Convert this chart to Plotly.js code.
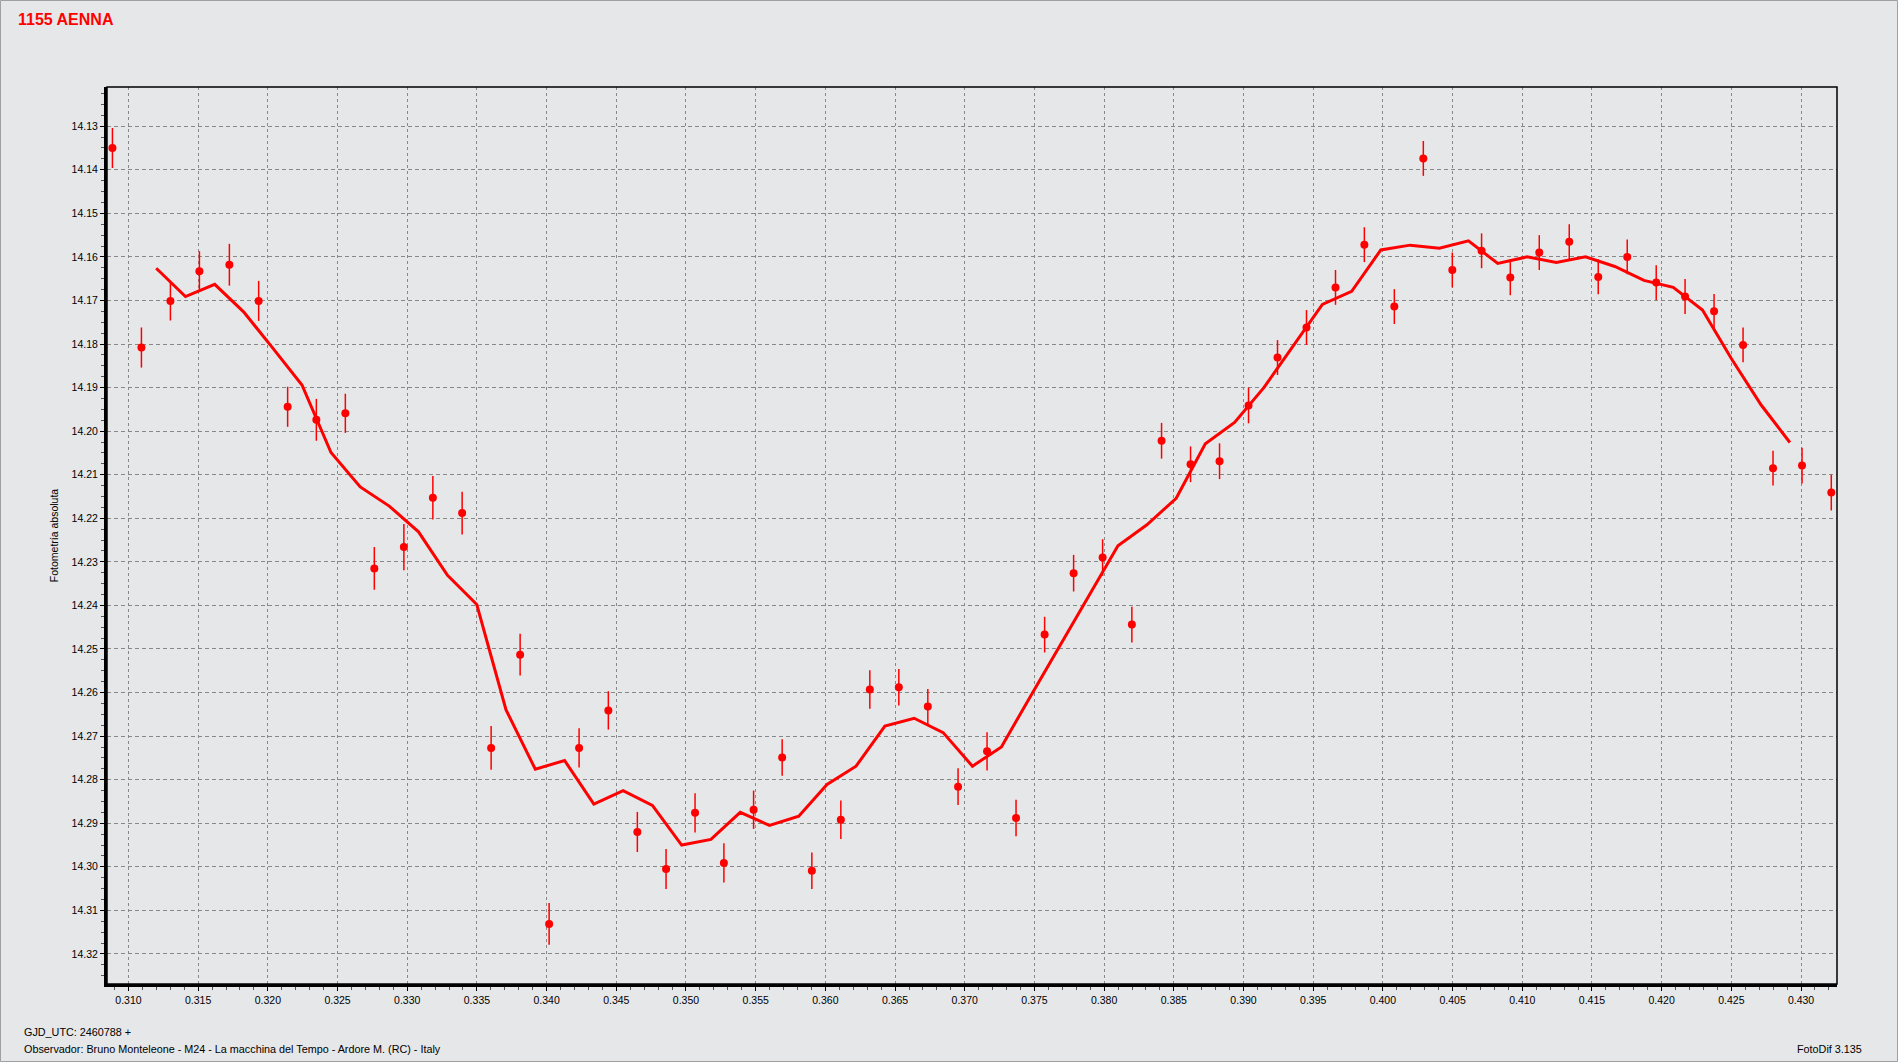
<!DOCTYPE html>
<html>
<head>
<meta charset="utf-8">
<script src="https://cdn.plot.ly/plotly-3.0.1.min.js"></script>
<style>
  html, body { margin: 0; padding: 0; background: #e6e7e9; }
  #chart { width: 1898px; height: 1062px; }
</style>
</head>
<body>
<div id="chart"></div>
<script>
// Observation times (GJD_UTC - 2460788)
const obsTime = [
  0.30885, 0.31093, 0.31301, 0.31509, 0.31724, 0.31934, 0.32142, 0.32348, 0.32556, 0.32764, 0.32976, 0.33184,
  0.33394, 0.33602, 0.33810, 0.34018, 0.34233, 0.34443, 0.34651, 0.34857, 0.35065, 0.35272, 0.35485, 0.35690,
  0.35903, 0.36111, 0.36319, 0.36527, 0.36735, 0.36952, 0.37160, 0.37368, 0.37573, 0.37781, 0.37989, 0.38199,
  0.38412, 0.38620, 0.38828, 0.39036, 0.39244, 0.39452, 0.39660, 0.39867, 0.40082, 0.40290, 0.40498, 0.40708,
  0.40914, 0.41122, 0.41337, 0.41545, 0.41753, 0.41961, 0.42168, 0.42376, 0.42584, 0.42799, 0.43007, 0.43217
];
// Absolute magnitudes
const obsMag = [
  14.1350, 14.1808, 14.1701, 14.1633, 14.1618, 14.1701, 14.1944, 14.1974, 14.1959, 14.2315, 14.2266, 14.2153,
  14.2188, 14.2727, 14.2513, 14.3131, 14.2727, 14.2641, 14.2920, 14.3005, 14.2876, 14.2991, 14.2869, 14.2749,
  14.3009, 14.2892, 14.2593, 14.2588, 14.2632, 14.2816, 14.2735, 14.2888, 14.2467, 14.2326, 14.2290, 14.2444,
  14.2022, 14.2076, 14.2069, 14.1941, 14.1831, 14.1762, 14.1670, 14.1572, 14.1714, 14.1374, 14.1630, 14.1586,
  14.1647, 14.1590, 14.1565, 14.1646, 14.1600, 14.1659, 14.1691, 14.1725, 14.1802, 14.2085, 14.2079, 14.2141
];
// Magnitude errors
const obsErr = [
  0.0046, 0.0046, 0.0045, 0.0046, 0.0048, 0.0046, 0.0046, 0.0048, 0.0045, 0.0049, 0.0053, 0.0050,
  0.0049, 0.0050, 0.0048, 0.0048, 0.0045, 0.0044, 0.0046, 0.0046, 0.0045, 0.0045, 0.0044, 0.0042,
  0.0042, 0.0044, 0.0044, 0.0042, 0.0040, 0.0042, 0.0044, 0.0042, 0.0041, 0.0042, 0.0042, 0.0041,
  0.0041, 0.0041, 0.0041, 0.0041, 0.0040, 0.0040, 0.0040, 0.0040, 0.0040, 0.0040, 0.0040, 0.0040,
  0.0041, 0.0040, 0.0040, 0.0040, 0.0040, 0.0040, 0.0040, 0.0040, 0.0040, 0.0040, 0.0041, 0.0041
];
// Smoothed curve
const avgTime = [
  0.31199, 0.31409, 0.31619, 0.31826, 0.32037, 0.32245, 0.32453, 0.32663, 0.32871, 0.33081, 0.33289,
  0.33499, 0.33709, 0.33919, 0.34129, 0.34339, 0.34549, 0.34759, 0.34969, 0.35179, 0.35389, 0.35599, 0.35809,
  0.36012, 0.36220, 0.36427, 0.36637, 0.36845, 0.37055, 0.37263, 0.37471, 0.37681, 0.37889, 0.38099, 0.38307,
  0.38517, 0.38726, 0.38936, 0.39146, 0.39355, 0.39566, 0.39776, 0.39985, 0.40195, 0.40405, 0.40614, 0.40824,
  0.41034, 0.41244, 0.41454, 0.41664, 0.41873, 0.42083, 0.42293, 0.42503, 0.42714, 0.42920
];
const avgMag = [
  14.1626, 14.1691, 14.1663, 14.1726, 14.1810, 14.1894, 14.2049, 14.2128, 14.2172, 14.2231, 14.2331,
  14.2398, 14.2640, 14.2776, 14.2756, 14.2856, 14.2825, 14.2859, 14.2950, 14.2937, 14.2875, 14.2905, 14.2884,
  14.2811, 14.2769, 14.2677, 14.2659, 14.2692, 14.2769, 14.2725, 14.2609, 14.2494, 14.2378, 14.2263, 14.2215,
  14.2154, 14.2029, 14.1980, 14.1900, 14.1804, 14.1709, 14.1679, 14.1584, 14.1573, 14.1580, 14.1563, 14.1615,
  14.1600, 14.1613, 14.1600, 14.1622, 14.1654, 14.1670, 14.1722, 14.1835, 14.1940, 14.2026
];

const titleText = '1155 AENNA';
const yTitle = 'Fotometría absoluta';
const footerDate = 'GJD_UTC: 2460788 +';
const footerObs = 'Observador: Bruno Monteleone - M24 - La macchina del Tempo - Ardore M. (RC) - Italy';
const footerSoft = 'FotoDif 3.135';

const RED = '#ff0000';
const FONT = 'Liberation Sans, Arial, sans-serif';

const traces = [
  {
    x: avgTime, y: avgMag, type: 'scatter', mode: 'lines',
    line: { color: RED, width: 3 }, hoverinfo: 'skip', showlegend: false
  },
  {
    x: obsTime, y: obsMag, type: 'scatter', mode: 'markers',
    marker: { color: RED, size: 8, symbol: 'circle' },
    error_y: { type: 'data', array: obsErr, visible: true, color: RED, thickness: 1.5, width: 0 },
    showlegend: false
  }
];

const plotL = 107, plotR = 1837, plotT = 87, plotB = 984;
const pw = plotR - plotL, ph = plotB - plotT;
const px = v => (v - plotL) / pw;
const py = v => (plotB - v) / ph;

const layout = {
  width: 1898, height: 1062,
  paper_bgcolor: '#e6e7e9', plot_bgcolor: '#e6e7e9',
  margin: { l: plotL, r: 1898 - plotR, t: plotT, b: 1062 - plotB, pad: 0 },
  showlegend: false,
  font: { family: FONT, size: 10.5, color: '#000' },
  title: {
    text: titleText, xref: 'container', yref: 'container',
    x: 18 / 1898, xanchor: 'left', y: 1 - 19 / 1062, yanchor: 'middle',
    font: { family: FONT, size: 16, color: RED, weight: 'bold' }
  },
  xaxis: {
    range: [0.30846, 0.43258], autorange: false,
    tick0: 0.310, dtick: 0.005, tickformat: '.3f',
    ticks: 'outside', ticklen: 4, tickwidth: 1, tickcolor: '#000',
    tickfont: { family: FONT, size: 10.5, color: '#000' },
    showgrid: true, gridcolor: '#888888', gridwidth: 1, griddash: '3px,3px',
    minor: { dtick: 0.001, ticks: 'outside', ticklen: 3, tickcolor: '#555', showgrid: false },
    showline: true, linecolor: '#000', linewidth: 3, mirror: false,
    zeroline: false
  },
  yaxis: {
    range: [14.3269, 14.1210], autorange: false,
    tick0: 14.13, dtick: 0.01, tickformat: '.2f',
    ticks: 'outside', ticklen: 4, tickwidth: 1, tickcolor: '#000',
    tickfont: { family: FONT, size: 10.5, color: '#000' },
    showgrid: true, gridcolor: '#888888', gridwidth: 1, griddash: '4px,3px',
    minor: { dtick: 0.0025, ticks: 'outside', ticklen: 3, tickcolor: '#555', showgrid: false },
    showline: true, linecolor: '#000', linewidth: 3, mirror: false,
    zeroline: false,
    title: { text: yTitle, standoff: 11, font: { family: FONT, size: 10.5, color: '#000' } }
  },
  shapes: [
    { type: 'rect', xref: 'paper', yref: 'paper', x0: 0, x1: 1, y0: 0, y1: 1,
      line: { color: '#000', width: 1.5 }, layer: 'above' },
    { type: 'rect', xref: 'paper', yref: 'paper',
      x0: px(0.5), x1: px(1897.5), y0: py(1061.5), y1: py(0.5),
      line: { color: '#a0a0a0', width: 1 }, layer: 'above' }
  ],
  annotations: [
    { text: footerDate, xref: 'paper', yref: 'paper', x: px(22), y: py(1032), xanchor: 'left', yanchor: 'middle',
      showarrow: false, font: { family: FONT, size: 10.8, color: '#000' } },
    { text: footerObs, xref: 'paper', yref: 'paper', x: px(22), y: py(1049), xanchor: 'left', yanchor: 'middle',
      showarrow: false, font: { family: FONT, size: 10.8, color: '#000' } },
    { text: footerSoft, xref: 'paper', yref: 'paper', x: px(1864), y: py(1049), xanchor: 'right', yanchor: 'middle',
      showarrow: false, font: { family: FONT, size: 10.8, color: '#000' } }
  ]
};

Plotly.newPlot('chart', traces, layout, { displayModeBar: false, staticPlot: true });
</script>
</body>
</html>
